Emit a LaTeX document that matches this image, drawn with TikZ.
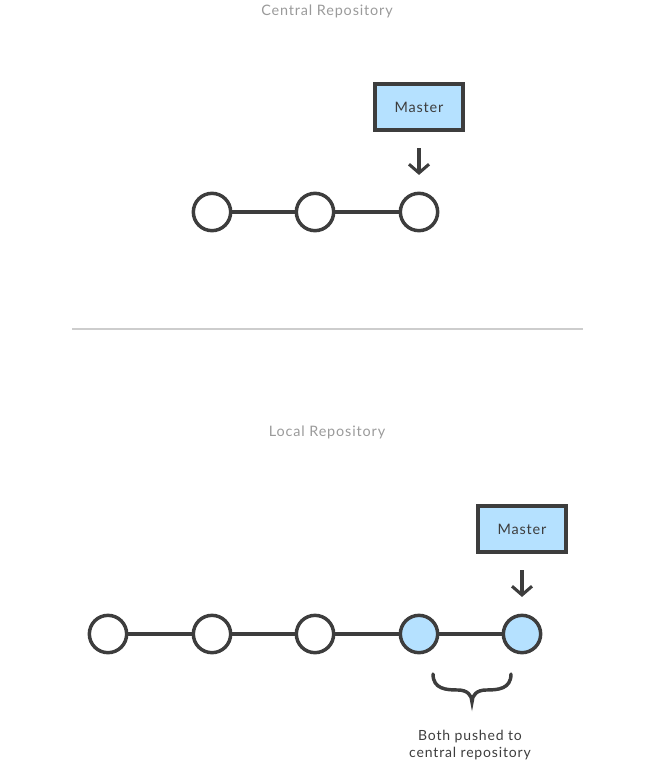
\documentclass[tikz,border=0pt]{standalone}
\usepackage{fontspec}
\setmainfont{Lato}
\usetikzlibrary{arrows.meta}
\definecolor{dk}{HTML}{3D3D3D}
\definecolor{bl}{HTML}{B5E1FF}
\definecolor{gr}{HTML}{9A9A9A}
\begin{document}
\begin{tikzpicture}[x=0.75pt,y=-0.75pt,
  commit/.style={circle,draw=dk,line width=2.6pt,fill=white,minimum size=28pt,inner sep=0pt},
  newcommit/.style={commit,fill=bl},
  branch/.style={draw=dk,line width=3pt,fill=bl,minimum width=66pt,minimum height=34pt,inner sep=0pt,font=\fontsize{10.8}{12}\selectfont\addfontfeatures{LetterSpace=6},text=dk},
  link/.style={draw=dk,line width=2.6pt},
  ptr/.style={draw=dk,line width=2.3pt,-{Straight Barb[length=6.5pt,width=15pt]},shorten <=12.5pt,shorten >=12.5pt},
  title/.style={text=gr,font=\fontsize{10.8}{12}\selectfont\addfontfeatures{LetterSpace=6}},
  note/.style={text=dk,align=center,font=\fontsize{10.5}{13}\selectfont\addfontfeatures{LetterSpace=6}}]
\useasboundingbox (0,0) rectangle (646,764);
% central
\node[title] (ct) at (327,11) {Central Repository};
\node[commit] (c1) at (212,212) {};
\node[commit] (c2) at (315,212) {};
\node[commit] (c3) at (419,212) {};
\draw[link] (c1) -- (c2);
\draw[link] (c2) -- (c3);
\node[branch] (m1) at (419,107) {Master};
\draw[ptr] (m1.south) -- (c3.north);
% separator
\coordinate (s1) at (72,329);
\coordinate (s2) at (583,329);
\draw[gr!50,line width=0.8pt] (s1) -- (s2);
% local
\node[title] (lt) at (327,432) {Local Repository};
\node[commit] (l1) at (108,634) {};
\node[commit] (l2) at (212,634) {};
\node[commit] (l3) at (315,634) {};
\node[newcommit] (l4) at (419,634) {};
\node[newcommit] (l5) at (522,634) {};
\draw[link] (l1) -- (l2);
\draw[link] (l2) -- (l3);
\draw[link] (l3) -- (l4);
\draw[link] (l4) -- (l5);
\node[branch] (m2) at (522,529) {Master};
\draw[ptr] (m2.south) -- (l5.north);
% brace
\draw[dk,line width=2.6pt,line cap=round]
  (433,674) .. controls (433,689) and (446,690) .. (458,690)
  .. controls (467,690) and (472,695) .. (472,702)
  .. controls (472,695) and (477,690) .. (486,690)
  .. controls (498,690) and (511,689) .. (511,674);
\node[note] (n) at (470,745) {Both pushed to\\central repository};
\end{tikzpicture}
\end{document}
